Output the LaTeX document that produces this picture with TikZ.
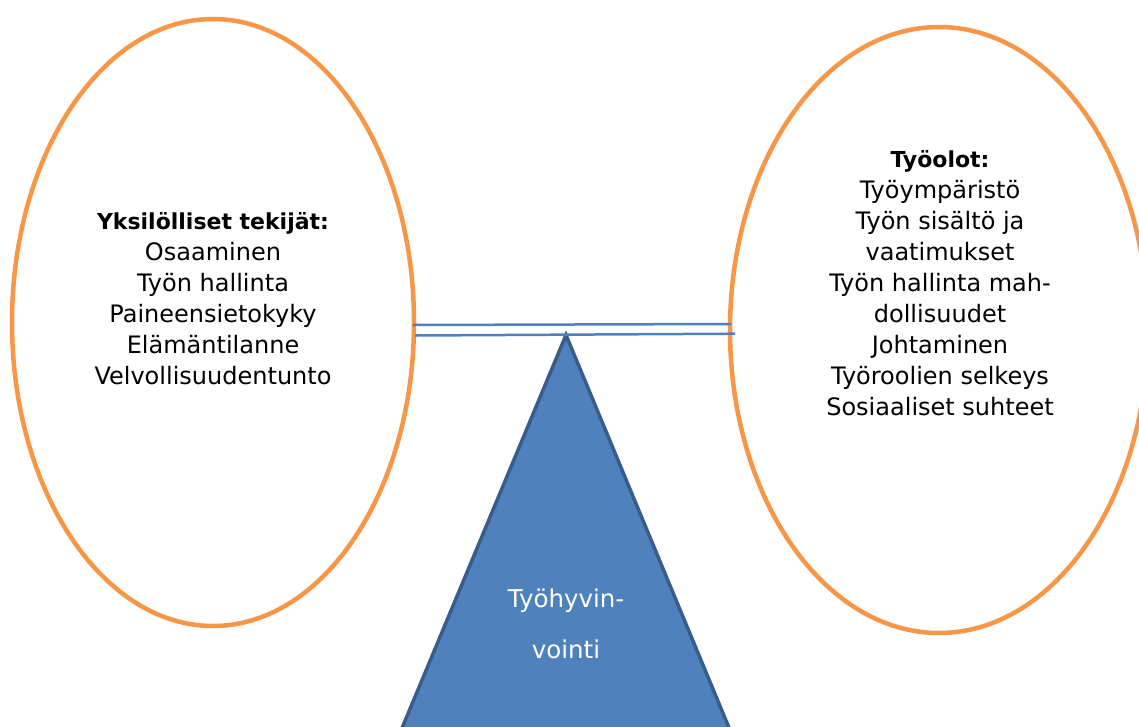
\documentclass[tikz,border=0pt]{standalone}
\usepackage{fontspec}
\setmainfont{DejaVu Sans}
\usetikzlibrary{shapes.geometric}
\definecolor{orangeL}{HTML}{F79646}
\definecolor{blueF}{HTML}{4F81BD}
\definecolor{blueD}{HTML}{385D8A}
\newcommand{\hdr}[1]{{\fontsize{22}{31}\selectfont\bfseries #1}}
\tikzset{
  oval/.style={ellipse, draw=orangeL, line width=4.5pt, inner sep=0pt},
  beam/.style={draw=blueF, line width=2.5pt},
  factors/.style={align=center, font=\fontsize{24}{31}\selectfont, text=black},
  pivot/.style={fill=blueF, draw=blueD, line width=3.5pt, line join=miter},
  pivottext/.style={align=center, font=\fontsize{24.5}{51}\selectfont, text=white}
}
\begin{document}
\begin{tikzpicture}[x=1pt,y=-1pt]
\useasboundingbox (0,0) rectangle (1139,726);
\clip (0,0) rectangle (1139,726);
% ovals
\node[oval, minimum width=402pt, minimum height=607pt] (L) at (213,322.5) {};
\node[oval, minimum width=418pt, minimum height=606pt] (R) at (939,330) {};
% pivot triangle
\coordinate (apex) at (566,335);
\coordinate (bl) at (372,800);
\coordinate (br) at (759,800);
\path[pivot] (apex) -- (br) -- (bl) -- cycle;
% beam
\coordinate (b1l) at (413,325);
\coordinate (b1r) at (731,324);
\coordinate (b2l) at (415,335.5);
\coordinate (b2r) at (735,333.7);
\draw[beam] (b1l) -- (b1r);
\draw[beam] (b2l) -- (b2r);
% texts
\node[factors] (lt) at (213,299) {\hdr{Yksilölliset tekijät:}\\Osaaminen\\Työn hallinta\\Paineensietokyky\\Elämäntilanne\\Velvollisuudentunto};
\node[factors] (rt) at (940,283) {\hdr{Työolot:}\\Työympäristö\\Työn sisältö ja\\vaatimukset\\Työn hallinta mah-\\dollisuudet\\Johtaminen\\Työroolien selkeys\\Sosiaaliset suhteet};
\node[pivottext] (pt) at (566,624) {Työhyvin-\\vointi};
\end{tikzpicture}
\end{document}
